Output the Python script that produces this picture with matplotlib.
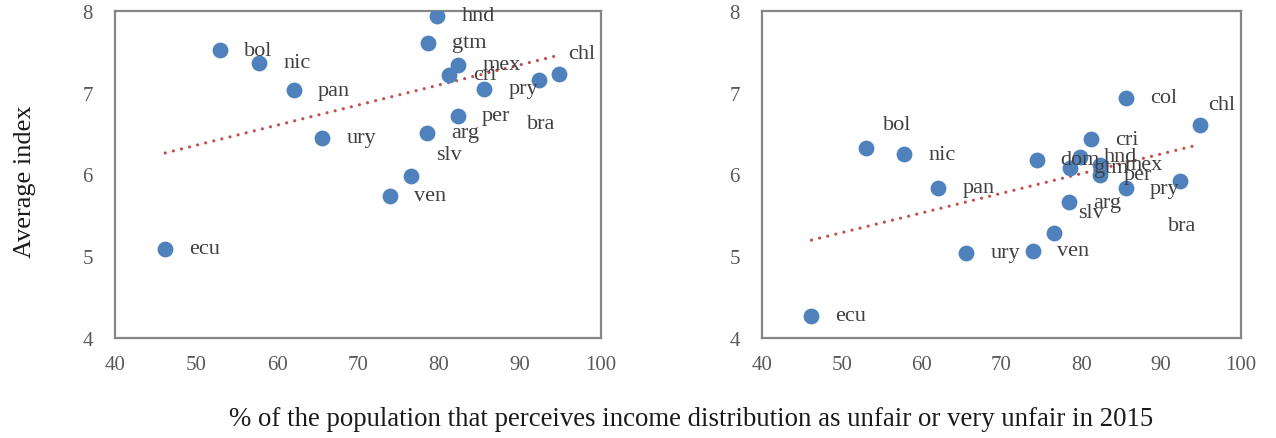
import matplotlib
matplotlib.use('Agg')
import matplotlib.pyplot as plt
import numpy as np

plt.rcParams['font.family'] = ['Liberation Serif', 'DejaVu Serif']

# left panel (col lies above the axis range and is clipped)
countries_l = ['hnd', 'gtm', 'bol', 'nic', 'mex', 'cri', 'chl', 'bra', 'pan', 'pry',
               'per', 'ury', 'arg', 'slv', 'ven', 'ecu', 'col']
unfair_l = [79.8, 78.6, 53.0, 57.8, 82.4, 81.2, 94.85, 92.3, 62.1, 85.6,
            82.3, 65.6, 78.5, 76.6, 74.0, 46.2, 85.6]
index_l = [7.94, 7.61, 7.52, 7.37, 7.34, 7.22, 7.23, 7.16, 7.03, 7.05,
           6.72, 6.45, 6.51, 5.98, 5.74, 5.09, 8.6]

# right panel
countries_r = ['arg', 'bol', 'bra', 'chl', 'col', 'cri', 'dom', 'ecu', 'gtm', 'hnd',
               'mex', 'nic', 'pan', 'per', 'pry', 'slv', 'ury', 'ven']
unfair_r = [78.5, 53.0, 92.3, 94.85, 85.6, 81.2, 74.4, 46.2, 78.6, 79.8,
            82.4, 57.8, 62.1, 82.3, 85.6, 76.6, 65.6, 74.0]
index_r = [5.66, 6.32, 5.92, 6.60, 6.94, 6.43, 6.18, 4.27, 6.08, 6.22,
           6.12, 6.25, 5.84, 6.00, 5.83, 5.28, 5.04, 5.07]

# label offsets in pixels (default: to the right)
moved_l = {'chl': (9, 20), 'bra': (-12, -44), 'slv': (25, 22)}
moved_r = {'bol': (17, 24), 'chl': (8, 21), 'bra': (-12, -44), 'slv': (24, 21)}

W, H = 1276, 439
fig = plt.figure(figsize=(W / 100, H / 100), dpi=100)

blue = '#4F81BD'
red = '#C0504D'
gray = '#595959'


def panel(rect, xs, ys, names, moved):
    ax = fig.add_axes(rect)
    ax.scatter(xs, ys, s=130, color=blue, zorder=3, linewidths=0)
    k, b = np.polyfit(xs, ys, 1)
    xx = np.array([min(xs), max(xs)])
    ax.plot(xx, k * xx + b, color=red, lw=2.3, linestyle=(0, (0.01, 2.6)),
            dash_capstyle='round', zorder=2)
    for x, y, n in zip(xs, ys, names):
        dx, dy = moved.get(n, (24, 0))
        ax.annotate(n, (x, y), xytext=(dx * 0.72, dy * 0.72), textcoords='offset points',
                    ha='left', va='center', fontsize=16, color='#404040', zorder=4)
    ax.set_xlim(40, 100)
    ax.set_ylim(4, 8)
    ax.set_xticks(range(40, 101, 10))
    ax.set_yticks(range(4, 9))
    ax.tick_params(length=0, labelsize=15, labelcolor=gray)
    ax.tick_params(axis='y', pad=16)
    ax.tick_params(axis='x', pad=12)
    for sp in ax.spines.values():
        sp.set_color('#868686')
        sp.set_linewidth(1.6)
    return ax


ax1 = panel([115 / W, 100 / H, 486 / W, 327 / H], unfair_l, index_l, countries_l, moved_l)
ax2 = panel([762 / W, 100 / H, 479 / W, 327 / H], unfair_r, index_r, countries_r, moved_r)

ax1.set_ylabel('Average index', fontsize=19, color='#1a1a1a')
ax1.yaxis.set_label_coords(-0.163, 0.48)
fig.text(691 / W, 1 - 420 / H, '% of the population that perceives income distribution as unfair or very unfair in 2015',
         ha='center', va='center', fontsize=19.3, color='#1a1a1a')

fig.savefig('out.png', dpi=100)
